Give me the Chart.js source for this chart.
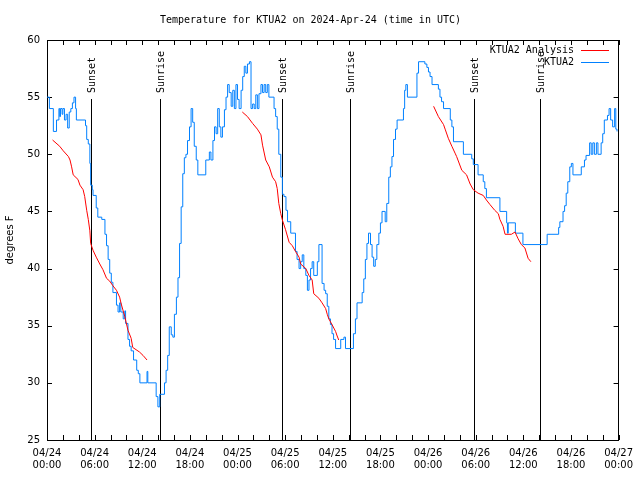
<!DOCTYPE html>
<html>
<head>
<meta charset="utf-8">
<title>Temperature for KTUA2</title>
<script src="https://cdn.jsdelivr.net/npm/chart.js@4.4.1/dist/chart.umd.min.js"></script>
<style>
    html, body { margin: 0; padding: 0; background: #fff; }
    #wrap { width: 640px; height: 480px; }
</style>
</head>
<body>
<div id="wrap"><canvas id="tempChart" width="640" height="480"></canvas></div>
<script>
// hours since 2024-04-24 00:00 UTC, temperature in F
const stationObs = [
    [0, 55], [0.3, 54], [0.8, 52], [1.2, 53], [1.5, 54], [1.6, 53.3], [1.7, 54], [1.9, 53.5],
    [2.0, 54], [2.2, 53], [2.4, 53.5], [2.6, 52.3], [2.8, 53.7], [3.0, 54], [3.2, 54.5], [3.4, 55],
    [3.6, 54], [3.7, 53], [4.85, 52.5], [5.0, 51.3], [5.2, 50.9], [5.4, 49.2], [5.5, 47.3], [5.7, 46.9],
    [5.8, 46.4], [6.2, 45.3], [6.4, 44.5], [6.9, 44.3], [7.3, 43], [7.5, 42], [7.7, 40.8], [7.9, 39.6],
    [8.1, 38.8], [8.3, 37.9], [8.75, 36.8], [8.95, 36.2], [9.15, 37], [9.3, 36.2], [9.6, 35.6], [9.8, 36.3],
    [9.9, 35.2], [10.2, 33.8], [10.4, 33.2], [10.6, 32.8], [10.9, 32], [11.3, 31.1], [11.5, 30.8], [11.7, 30],
    [12.6, 31], [12.7, 30], [13.75, 28.8], [13.97, 27.9], [14.2, 29], [14.8, 30], [15.0, 31.1], [15.2, 32.4],
    [15.4, 34.9], [15.65, 34.2], [15.85, 34], [16.05, 36], [16.3, 37.5], [16.5, 39.2], [16.7, 42.2], [16.9, 45.4],
    [17.1, 48.3], [17.3, 49.7], [17.5, 50], [17.7, 51.2], [17.95, 52.4], [18.15, 54], [18.35, 52.8], [18.55, 50.7],
    [18.8, 49.5], [19.0, 48.2], [20.0, 49.5], [20.45, 50.2], [20.65, 49.5], [20.9, 51.2], [21.1, 52.4], [21.3, 51.8],
    [21.5, 54], [21.7, 52.4], [21.9, 51.5], [22.1, 52.4], [22.35, 53.9], [22.55, 55], [22.75, 56.1], [22.95, 55.4],
    [23.2, 54.2], [23.4, 55.6], [23.6, 54], [23.8, 56.1], [24.0, 54.8], [24.2, 54], [24.45, 55.6], [24.65, 56.8],
    [24.85, 57.7], [25.05, 57.1], [25.25, 57.9], [25.5, 58.1], [25.7, 54], [25.9, 54.4], [26.1, 54], [26.3, 55.2],
    [26.5, 54], [26.7, 55.3], [26.95, 56.1], [27.15, 55.4], [27.35, 56.1], [27.55, 55.4], [27.75, 56.1], [27.95, 55],
    [28.6, 54], [28.8, 53.3], [29.0, 52.2], [29.2, 50], [29.45, 48], [29.65, 46.5], [29.85, 46.3], [30.1, 45.1],
    [30.3, 44.1], [30.7, 43.1], [31.3, 41.5], [31.5, 40.8], [31.75, 40], [31.95, 40.6], [32.15, 41.2], [32.35, 40],
    [32.6, 39.4], [32.8, 38.1], [33.0, 39], [33.2, 40], [33.4, 40.6], [33.6, 39.4], [34.05, 40.6], [34.25, 42.1],
    [34.65, 38.7], [34.9, 38.1], [35.1, 37.8], [35.3, 36.7], [35.5, 35.6], [35.7, 35.1], [35.9, 34.3], [36.1, 33.8],
    [36.35, 33], [37.0, 33.8], [37.4, 34], [37.6, 33], [38.6, 34.3], [38.85, 35.6], [39.05, 37], [39.7, 37.9],
    [39.9, 39.1], [40.1, 40.8], [40.3, 42.2], [40.5, 43.1], [40.75, 42.1], [40.95, 41], [41.15, 40.2], [41.35, 40.8],
    [41.55, 42.1], [41.8, 43.1], [42.0, 44], [42.2, 45], [42.6, 44.1], [42.8, 45.7], [43.05, 48], [43.25, 48.9],
    [43.45, 49.8], [43.65, 51.3], [43.9, 52.2], [44.1, 53], [44.9, 54], [45.05, 55.6], [45.2, 56.1], [45.4, 55],
    [46.6, 57.1], [46.8, 58.1], [47.6, 57.9], [47.85, 57.6], [48.05, 57.2], [48.25, 56.8], [48.5, 56.1], [49.3, 55.7],
    [49.5, 55], [49.7, 54.6], [49.95, 54], [50.8, 53], [51.0, 52.4], [51.2, 51.1], [52.45, 50], [53.5, 49.6],
    [53.7, 49.1], [54.3, 48.2], [54.95, 47.6], [55.15, 47], [55.35, 46.2], [57.05, 45], [57.9, 44], [58.0, 43.1],
    [58.1, 44], [59.0, 43.1], [59.95, 42.1], [63.0, 43], [64.45, 43.6], [64.6, 44.1], [65.0, 45], [65.2, 45.5],
    [65.4, 46.6], [65.6, 47.6], [65.85, 48.9], [66.05, 49.2], [66.25, 48.2], [67.3, 48.9], [67.7, 49.5], [67.9, 49.9],
    [68.35, 51], [68.55, 50], [68.75, 51], [68.95, 50], [69.2, 51], [69.4, 50], [69.8, 51], [70.0, 51.8],
    [70.2, 53], [70.6, 53.4], [70.8, 54], [71.0, 53], [71.25, 52.4], [71.5, 54], [71.65, 52.2], [71.8, 52]
];

const analysisNight1 = [
    [0.7, 51.25], [1.6, 50.7], [2.05, 50.3], [2.7, 49.8], [2.9, 49.5], [3.1, 48.9], [3.3, 48.2], [3.9, 47.8],
    [4.15, 47.3], [4.55, 46.9], [4.75, 46.3], [5.0, 45.1], [5.2, 44.3], [5.4, 43.3], [5.5, 42.2], [5.8, 41.6],
    [6.2, 41], [6.65, 40.4], [7.05, 39.9], [7.5, 39.15], [7.9, 38.9], [8.3, 38.5], [8.75, 38.1], [9.15, 37.5],
    [9.35, 36.9], [9.8, 35.8], [10.2, 34.6], [10.6, 33.9], [10.8, 33.1], [11.65, 32.7], [12.1, 32.4], [12.6, 32.0]
];
const analysisNight2 = [
    [24.6, 53.7], [25.25, 53.3], [25.9, 52.7], [26.5, 52.2], [26.95, 51.7], [27.15, 50.8], [27.55, 49.5], [28.0, 48.9],
    [28.4, 48.0], [28.8, 47.6], [29.0, 47], [29.2, 45.7], [29.45, 44.8], [29.65, 44.25], [30.05, 43.4], [30.5, 42.3],
    [30.9, 42], [31.3, 41.5], [31.75, 41], [31.95, 40.4], [32.6, 40.0], [33.0, 39.4], [33.4, 39.0], [33.6, 37.8],
    [34.25, 37.4], [34.65, 37.0], [35.1, 36.5], [35.3, 36.0], [35.5, 35.6], [35.9, 35.1], [36.35, 34.5], [36.55, 34.1],
    [36.75, 33.75]
];
const analysisNight3 = [
    [48.7, 54.2], [49.3, 53.3], [49.95, 52.6], [50.15, 52.2], [50.55, 51.4], [51.0, 50.7], [51.4, 50.1], [51.6, 49.8],
    [52.25, 48.6], [52.85, 48.2], [53.3, 47.4], [53.7, 46.9], [54.3, 46.6], [54.95, 46.4], [55.35, 46.0], [55.8, 45.6],
    [56.4, 45.1], [56.85, 44.8], [57.05, 44.3], [57.45, 43.7], [57.7, 43.0], [58.5, 43.0], [58.95, 43.2], [59.35, 42.6],
    [59.75, 42.1], [60.2, 41.8], [60.6, 40.9], [60.95, 40.6]
];

const sunsetHours = [5.6, 29.65, 53.75];
const sunriseHours = [14.2, 38.2, 62.1];

const startDay = 24;
const tempTicks = [25, 30, 35, 40, 45, 50, 55, 60];

const monoFont = '"DejaVu Sans Mono", monospace';
const sansFont = '"DejaVu Sans", sans-serif';

function toPoints(pairs) {
    return pairs.map(function (p) { return { x: p[0], y: p[1] }; });
}

let analysisData = [];
[analysisNight1, analysisNight2, analysisNight3].forEach(function (seg, i) {
    if (i > 0) {
        analysisData.push({ x: seg[0][0] - 0.01, y: null });
    }
    analysisData = analysisData.concat(toPoints(seg));
});

function pad2(n) {
    return n < 10 ? '0' + n : '' + n;
}

// box, inward ticks, sunrise/sunset markers, legend
const gnuplotFrame = {
    id: 'gnuplotFrame',
    beforeDatasetsDraw(chart) {
        const ctx = chart.ctx;
        const area = chart.chartArea;
        const xs = chart.scales.x;
        const ys = chart.scales.y;
        ctx.save();
        ctx.strokeStyle = '#000';
        ctx.lineWidth = 1;
        ctx.beginPath();
        for (let h = 0; h <= 72; h += 2) {
            const px = Math.round(xs.getPixelForValue(h)) + 0.5;
            ctx.moveTo(px, area.bottom);
            ctx.lineTo(px, area.bottom - 5);
            ctx.moveTo(px, area.top);
            ctx.lineTo(px, area.top + 5);
        }
        tempTicks.forEach(function (t) {
            const py = Math.round(ys.getPixelForValue(t)) + 0.5;
            ctx.moveTo(area.left, py);
            ctx.lineTo(area.left + 5, py);
            ctx.moveTo(area.right, py);
            ctx.lineTo(area.right - 5, py);
        });
        ctx.stroke();

        const markers = sunsetHours.map(function (h) { return [h, 'Sunset']; })
            .concat(sunriseHours.map(function (h) { return [h, 'Sunrise']; }));
        ctx.font = '10px ' + monoFont;
        ctx.fillStyle = '#000';
        markers.forEach(function (m) {
            const px = Math.round(xs.getPixelForValue(m[0])) + 0.5;
            ctx.beginPath();
            ctx.moveTo(px, 99);
            ctx.lineTo(px, area.bottom);
            ctx.stroke();
            ctx.save();
            ctx.translate(px + 1, 93);
            ctx.rotate(-Math.PI / 2);
            ctx.textAlign = 'left';
            ctx.textBaseline = 'middle';
            ctx.fillText(m[1], 0, 0);
            ctx.restore();
        });

        ctx.strokeRect(Math.round(area.left) + 0.5, Math.round(area.top) + 0.5,
            Math.round(area.right - area.left) - 1, Math.round(area.bottom - area.top));
        ctx.restore();
    },
    afterDraw(chart) {
        const ctx = chart.ctx;
        ctx.save();
        ctx.font = '10px ' + monoFont;
        ctx.textAlign = 'right';
        ctx.textBaseline = 'middle';
        ctx.fillStyle = '#000';
        ctx.lineWidth = 1;
        chart.data.datasets.forEach(function (ds, i) {
            const y = 50 + i * 12;
            ctx.fillText(ds.label, 574, y);
            ctx.strokeStyle = ds.borderColor;
            ctx.beginPath();
            ctx.moveTo(581, y + 0.5);
            ctx.lineTo(609, y + 0.5);
            ctx.stroke();
        });
        ctx.restore();
    }
};

new Chart(document.getElementById('tempChart'), {
    type: 'line',
    data: {
        datasets: [{
            label: 'KTUA2 Analysis',
            data: analysisData,
            borderColor: '#ff0000',
            borderWidth: 1,
            pointRadius: 0,
            spanGaps: false,
            tension: 0
        }, {
            label: 'KTUA2',
            data: toPoints(stationObs),
            borderColor: '#0080ff',
            borderWidth: 1,
            pointRadius: 0,
            stepped: true
        }]
    },
    options: {
        responsive: false,
        animation: false,
        devicePixelRatio: 1,
        layout: { padding: { left: 0, right: 19, top: 0, bottom: 0 } },
        plugins: {
            legend: { display: false },
            tooltip: { enabled: false },
            title: {
                display: true,
                text: 'Temperature for KTUA2 on 2024-Apr-24 (time in UTC)',
                color: '#000',
                font: { family: monoFont, size: 10, weight: 'normal', lineHeight: 1.2 },
                padding: { top: 14, bottom: 14 }
            }
        },
        scales: {
            x: {
                type: 'linear',
                min: 0,
                max: 72,
                afterFit: function (scale) { scale.height = 40; },
                afterBuildTicks: function (scale) {
                    scale.ticks = [];
                    for (let h = 0; h <= 72; h += 6) {
                        scale.ticks.push({ value: h });
                    }
                },
                grid: { display: false, drawTicks: false },
                border: { display: false },
                ticks: {
                    color: '#000',
                    font: { family: sansFont, size: 10, lineHeight: 1.25 },
                    padding: 7,
                    maxRotation: 0,
                    autoSkip: false,
                    callback: function (value) {
                        const day = startDay + Math.floor(value / 24);
                        const hour = value % 24;
                        return ['04/' + pad2(day), pad2(hour) + ':00'];
                    }
                }
            },
            y: {
                min: 25,
                max: 60,
                afterFit: function (scale) { scale.width = 47; },
                grid: { display: false, drawTicks: false },
                border: { display: false },
                ticks: {
                    stepSize: 5,
                    color: '#000',
                    font: { family: sansFont, size: 10 },
                    padding: 7
                },
                title: {
                    display: true,
                    text: 'degrees F',
                    color: '#000',
                    font: { family: sansFont, size: 10 },
                    padding: { top: 4, bottom: 0 }
                }
            }
        }
    },
    plugins: [gnuplotFrame]
});
</script>
</body>
</html>
